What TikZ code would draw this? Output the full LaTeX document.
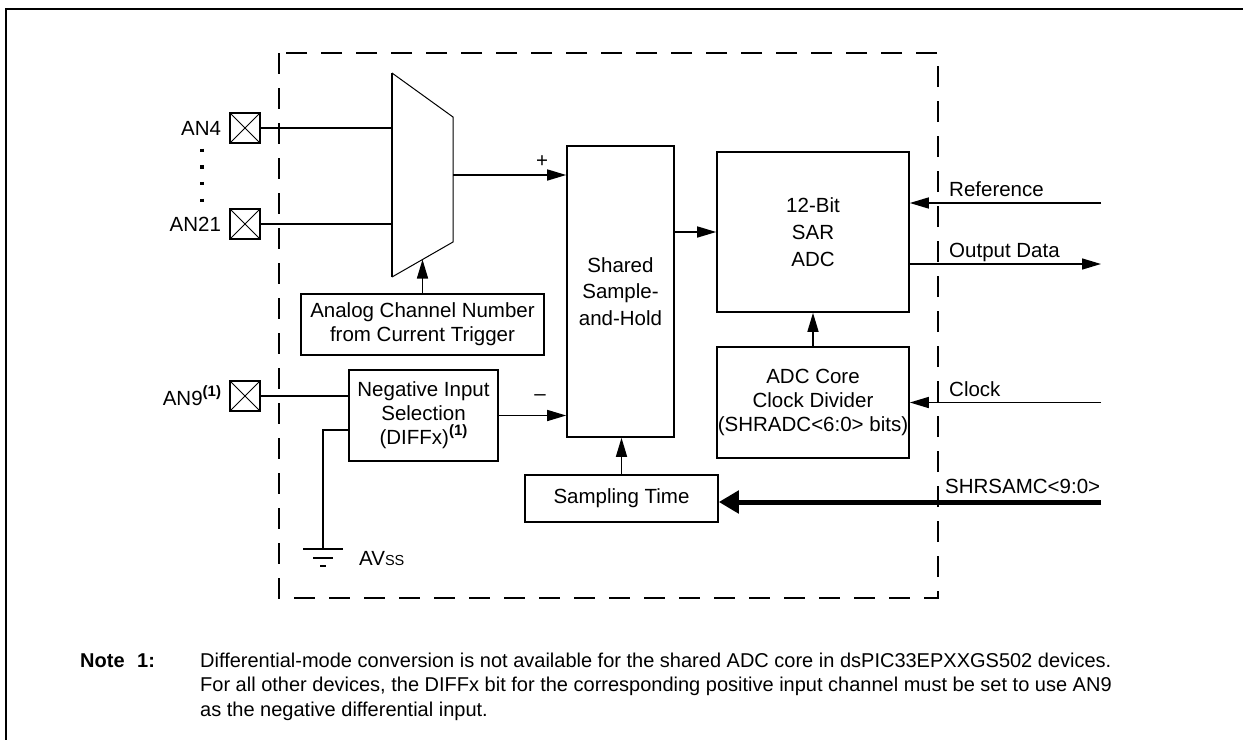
\documentclass[tikz,border=0pt]{standalone}
\usepackage{fontspec}
\setmainfont{Liberation Sans}
\usetikzlibrary{arrows.meta, positioning, calc}

\newcommand{\notemark}{\raisebox{0.45em}{\fontsize{15}{15}\selectfont\bfseries(1)}}

\begin{document}
\begin{tikzpicture}[
  x=1pt, y=-1pt,
  every node/.style={font=\fontsize{20.5}{24}\selectfont, inner sep=0pt},
  blk/.style={draw, line width=1.6pt, align=center},
  pin/.style={draw, line width=1.6pt, minimum size=30pt,
              path picture={\draw[line width=0.8pt]
                (path picture bounding box.south west) -- (path picture bounding box.north east)
                (path picture bounding box.north west) -- (path picture bounding box.south east);}},
  wire/.style={line width=1.5pt},
  arrow/.style={wire, -{Triangle[length=19pt, width=11pt]}},
  bus/.style={line width=5pt, -{Triangle[length=20pt, width=22pt]}},
  lab/.style={anchor=base west},
  notefont/.style={anchor=base west, font=\fontsize{20}{24}\selectfont\bfseries},
]
\useasboundingbox (0,0) rectangle (1243,740);

% Outer frame and module boundary
\draw[line width=2.5pt] (1243,9) -- (6,9) -- (6,740);
\draw[line width=2pt, dash pattern=on 21pt off 14pt] (279,53) rectangle (938,598);

% Analog input pins
\node[pin] (pin4) at (245,128) {};
\node[pin] (pin21) at (245,224) {};
\node[pin] (pin9) at (245,396) {};
\node[left=8pt of pin4] (an4) {AN4};
\node[left=8pt of pin21] (an21) {AN21};
\node[left=8pt of pin9] (an9) {AN9\notemark};
\draw[line width=3.5pt, dash pattern=on 3.5pt off 13.2pt] (202,148.5) -- (202,202);

% Input multiplexer
\coordinate (mtl) at (392,73);
\coordinate (mtr) at (453,117);
\coordinate (mbr) at (453,242);
\coordinate (mbl) at (392,277);
\coordinate (mout) at (453,175);
\draw[line width=1pt] (mtl) -- (mtr) -- (mbr) -- (mbl);
\draw[line width=2pt] (mbl) -- (mtl);
\draw[wire] (pin4.east) -- (pin4.east -| mtl);
\draw[wire] (pin21.east) -- (pin21.east -| mtl);

% Blocks
\node[blk, minimum width=243pt, minimum height=61pt] (chan) at (422.5,324.5) {Analog Channel Number\\from Current Trigger};
\node[blk, minimum width=149pt, minimum height=91pt] (neg) at (423.5,415.5) {Negative Input\\Selection\\(DIFFx)\notemark};
\node[blk, minimum width=107pt, minimum height=291pt, font=\fontsize{20.5}{26.5}\selectfont] (sh) at (620.5,291.5) {Shared\\Sample-\\and-Hold};
\node[blk, minimum width=193pt, minimum height=47pt] (samp) at (621.5,498.5) {Sampling Time};
\node[blk, minimum width=192pt, minimum height=160pt, font=\fontsize{20.5}{27}\selectfont] (adc) at (813,232) {12-Bit\\SAR\\ADC};
\node[blk, minimum width=192pt, minimum height=111pt] (clkdiv) at (813,402.5) {ADC Core\\Clock Divider\\(SHRADC<6:0> bits)};

% Ground
\coordinate (gnd) at (323,549);
\draw[wire] ([yshift=-14.5pt]neg.west) -| (gnd);
\draw[line width=2pt] ([xshift=-20pt]gnd) -- ([xshift=20pt]gnd)
  ([shift={(-10,9)}]gnd) -- ([shift={(10,9)}]gnd)
  ([shift={(-3,17)}]gnd) -- ([shift={(3,17)}]gnd);
\node[lab] (avss) at (359,565) {AV{\fontsize{14.5}{14.5}\selectfont SS}};

% Internal connections
\draw[arrow] (mout) -- (mout -| sh.west);
\node (plus) at (542,162) {+};
\draw[arrow] (chan.north) -- ($(mbl)!0.5!(mbr)$);
\draw[wire] (pin9.east) -- (pin9.east -| neg.west);
\draw[arrow] (neg.east) -- (neg.east -| sh.west);
\node (minus) at (540,398) {\textendash};
\draw[arrow] (sh.east |- adc.west) -- (adc.west);
\draw[arrow] (clkdiv.north) -- (adc.south);
\draw[arrow] (samp.north) -- (samp.north |- sh.south);

% External signals
\coordinate (refin) at (1101,203);
\coordinate (dout) at (1101,264);
\coordinate (clkin) at (1101,402.5);
\coordinate (shrin) at (1101,502);
\draw[arrow] (refin) -- (refin -| adc.east);
\draw[arrow] (adc.east |- dout) -- (dout);
\draw[arrow] (clkin) -- (clkin -| clkdiv.east);
\draw[bus] (shrin) -- (shrin -| samp.east);
\node[lab] (reflab) at (949,196) {Reference};
\node[lab] (outlab) at (949,257) {Output Data};
\node[lab] (clklab) at (949,396) {Clock};
\node[lab] (shrlab) at (945,493) {SHRSAMC<9:0>};

% Note
\node[notefont] (notehd) at (80,667) {Note};
\node[notefont] (notenum) at (137,667) {1:};
\node[lab, font=\fontsize{20}{24}\selectfont] (note1) at (200,667) {Differential-mode conversion is not available for the shared ADC core in dsPIC33EPXXGS502 devices.};
\node[lab, font=\fontsize{20}{24}\selectfont] (note2) at (200,691) {For all other devices, the DIFFx bit for the corresponding positive input channel must be set to use AN9};
\node[lab, font=\fontsize{20}{24}\selectfont] (note3) at (200,716) {as the negative differential input.};

\end{tikzpicture}
\end{document}
